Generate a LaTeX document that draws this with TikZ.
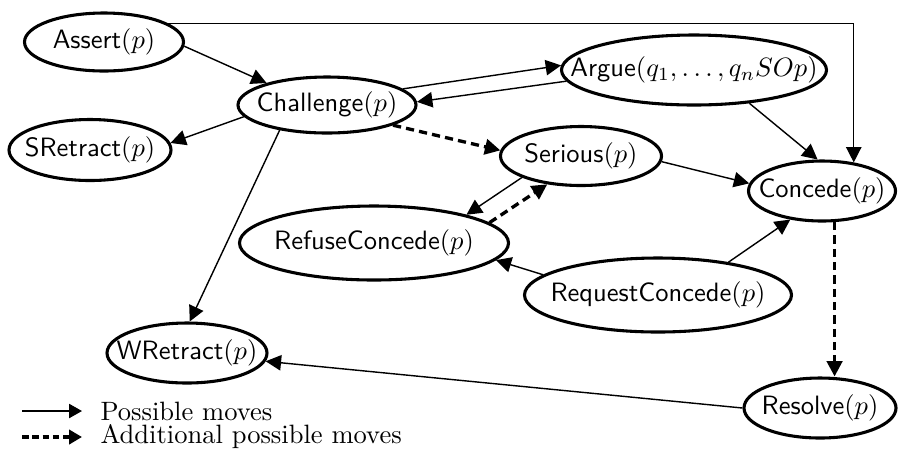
\RequirePackage{fix-cm}
\documentclass[tikz,border=0pt]{standalone}
\usetikzlibrary{arrows.meta,shapes.geometric}
\begin{document}
\begin{tikzpicture}[x=0.39pt,y=-0.39pt,
  mv/.style 2 args={draw,ellipse,line width=1.2pt,inner ysep=0pt,inner xsep=-14pt,
    minimum width=#1*0.39pt,minimum height=#2*0.39pt,font=\fontsize{10.35}{12}\selectfont\sffamily},
  legtext/.style={anchor=west,inner sep=0pt,font=\fontsize{10.35}{12}\selectfont},
  mvarrow/.style={line width=0.55pt,-{Triangle[length=6pt,width=6pt]}},
  addarrow/.style={line width=1.3pt,dash pattern=on 3.2pt off 2pt,-{Triangle[length=6pt,width=6pt]}},
  legarrow/.style={line width=1.3pt,dash pattern=on 2.6pt off 1.4pt,-{Triangle[length=5pt,width=5.5pt]}},
  legsolid/.style={line width=0.55pt,-{Triangle[length=5pt,width=5.5pt]}}]
\useasboundingbox (0,0) rectangle (903,448);
\node[mv={159}{58}]  (as)  at (104,42)  {Assert$(p)$};
\node[mv={178}{56}]  (ch)  at (327,105) {Challenge$(p)$};
\node[mv={162}{61}]  (sr)  at (90,150)  {SRetract$(p)$};
\node[mv={265}{70}]  (arg) at (694,70)  {Argue$(q_1,\ldots,q_nSOp)$};
\node[mv={161}{59}]  (ser) at (581,156) {Serious$(p)$};
\node[mv={147}{60}]  (con) at (822,191) {Concede$(p)$};
\node[mv={269}{74}]  (ref) at (374,243) {RefuseConcede$(p)$};
\node[mv={267}{74}]  (req) at (658,295) {RequestConcede$(p)$};
\node[mv={160}{60}]  (wr)  at (187,353) {WRetract$(p)$};
\node[mv={152}{60}]  (res) at (820,408) {Resolve$(p)$};

\draw[mvarrow] (as.16) -| (con.42);
\draw[mvarrow] (as.357) -- (ch.160);
\draw[mvarrow] (ch.12) -- (arg.178);
\draw[mvarrow] (arg.185) -- (ch.2);
\draw[mvarrow] (ch.188) -- (sr.5);
\draw[mvarrow] (ch.208) -- (wr.85);
\draw[addarrow] (ch.343) -- (ser.176);
\draw[mvarrow] (arg.329) -- (con.98);
\draw[mvarrow] (ser.356) -- (con.174);
\draw[mvarrow] (ser.200) -- (ref.17);
\draw[addarrow] (ref.10) -- (ser.220);
\draw[mvarrow] (req.170) -- (ref.352);
\draw[mvarrow] (req.25) -- (con.222);
\draw[addarrow] (con.292) -- (con.292 |- res.north);
\draw[mvarrow] (res.west) -- (wr.354);

\node[legtext] (lg1) at (100,411) {Possible moves};
\node[legtext] (lg2) at (100,437) {Additional possible moves};
\coordinate (l1s) at (22,411);
\coordinate (l1e) at (82,411);
\coordinate (l2s) at (22,437);
\coordinate (l2e) at (82,437);
\draw[legsolid] (l1s) -- (l1e);
\draw[legarrow] (l2s) -- (l2e);
\end{tikzpicture}
\end{document}
